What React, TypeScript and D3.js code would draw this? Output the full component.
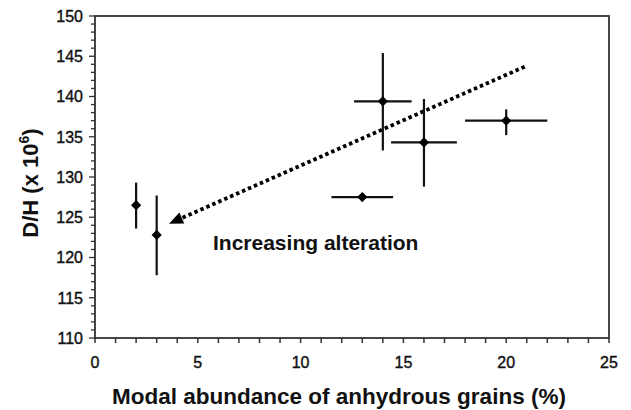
import * as d3 from "d3";

const width = 631;
const height = 410;
const margin = { top: 16, right: 22, bottom: 72, left: 95 };

// anhydrous grain abundance (%) vs D/H (x 10^6)
const xValues = [2, 3, 13, 14, 16, 20];
const yValues = [126.5, 122.8, 127.5, 139.4, 134.3, 137.0];
const xErrLow = [2, 3, 11.5, 12.6, 14.4, 18.0];
const xErrHigh = [2, 3, 14.5, 15.4, 17.6, 22.0];
const yErrLow = [123.6, 117.8, 127.5, 133.3, 128.8, 135.2];
const yErrHigh = [129.3, 127.7, 127.5, 145.4, 139.7, 138.4];

const xTicks = [0, 5, 10, 15, 20, 25];
const yTicks = [110, 115, 120, 125, 130, 135, 140, 145, 150];

// trend arrow, tail -> head
const arrowFrom = [20.9, 143.7];
const arrowTo = [3.6, 124.2];

const font = "'Liberation Sans', Arial, sans-serif";

const App = () => {
  const x = d3
    .scaleLinear()
    .domain([0, 25])
    .range([margin.left, width - margin.right]);
  const y = d3
    .scaleLinear()
    .domain([110, 150])
    .range([height - margin.bottom, margin.top]);

  const x0 = x(0);
  const y0 = y(110);
  const minorX = d3.range(0, 26, 1);
  const minorY = d3.range(110, 151, 1);

  const diamond = d3.symbol().type(d3.symbolSquare).size(52)();

  // arrow geometry
  const ax1 = x(arrowFrom[0]);
  const ay1 = y(arrowFrom[1]);
  const ax2 = x(arrowTo[0]);
  const ay2 = y(arrowTo[1]);
  const ang = Math.atan2(ay2 - ay1, ax2 - ax1);
  const headLen = 14;
  const headW = 6;
  const bx = ax2 - headLen * Math.cos(ang);
  const by = ay2 - headLen * Math.sin(ang);
  const head = [
    [ax2, ay2],
    [bx + headW * Math.sin(ang), by - headW * Math.cos(ang)],
    [bx - headW * Math.sin(ang), by + headW * Math.cos(ang)],
  ];

  return (
    <svg width={width} height={height} style={{ display: "block", position: "absolute", left: 0, top: 0 }}>
      <rect width={width} height={height} fill="white" />

      {/* frame */}
      <rect
        x={x(0)}
        y={y(150)}
        width={x(25) - x(0)}
        height={y(110) - y(150)}
        fill="none"
        stroke="#333"
        strokeWidth={1.8}
      />

      {/* x ticks */}
      {minorX.map((t) => (
        <line key={"xt" + t} x1={x(t)} x2={x(t)} y1={y0} y2={y0 + 5} stroke="#333" strokeWidth={1.5} />
      ))}
      {xTicks.map((t) => (
        <text
          key={"xl" + t}
          x={x(t)}
          y={368}
          textAnchor="middle"
          fontFamily={font}
          fontSize={16}
          fill="#111"
          stroke="#111"
          strokeWidth={0.4}
        >
          {t}
        </text>
      ))}

      {/* y ticks */}
      {minorY.map((t) => (
        <line
          key={"yt" + t}
          x1={x0 - (t % 5 === 0 ? 6 : 4)}
          x2={x0}
          y1={y(t)}
          y2={y(t)}
          stroke="#333"
          strokeWidth={1.3}
        />
      ))}
      {yTicks.map((t) => (
        <text
          key={"yl" + t}
          x={83}
          y={y(t)}
          dy="0.36em"
          textAnchor="end"
          fontFamily={font}
          fontSize={16}
          fill="#111"
          stroke="#111"
          strokeWidth={0.4}
        >
          {t}
        </text>
      ))}

      {/* axis titles */}
      <text
        x={339}
        y={404}
        textAnchor="middle"
        fontFamily={font}
        fontWeight="bold"
        fontSize={22.5}
        fill="#111"
      >
        Modal abundance of anhydrous grains (%)
      </text>
      <text
        transform={`translate(38,183) rotate(-90)`}
        textAnchor="middle"
        fontFamily={font}
        fontWeight="bold"
        fontSize={22}
        fill="#111"
      >
        D/H (x 10<tspan fontSize={14} dy={-9}>6</tspan>
        <tspan dy={9}>)</tspan>
      </text>

      {/* trend arrow */}
      <line
        x1={ax1}
        y1={ay1}
        x2={bx}
        y2={by}
        stroke="#000"
        strokeWidth={3.8}
        strokeDasharray="3.5 3"
      />
      <polygon points={head.map((p) => p.join(",")).join(" ")} fill="#000" />
      <text x={213} y={250} fontFamily={font} fontWeight="bold" fontSize={21} fill="#111">
        Increasing alteration
      </text>

      {/* error bars and points */}
      {xValues.map((v, i) => (
        <g key={"p" + i}>
          {xErrHigh[i] > xErrLow[i] && (
            <line x1={x(xErrLow[i])} x2={x(xErrHigh[i])} y1={y(yValues[i])} y2={y(yValues[i])} stroke="#111" strokeWidth={2.2} />
          )}
          {yErrHigh[i] > yErrLow[i] && (
            <line x1={x(v)} x2={x(v)} y1={y(yErrLow[i])} y2={y(yErrHigh[i])} stroke="#111" strokeWidth={2.2} />
          )}
          <path d={diamond} transform={`translate(${x(v)},${y(yValues[i])}) rotate(45)`} fill="#000" />
        </g>
      ))}
    </svg>
  );
};

export default App;
